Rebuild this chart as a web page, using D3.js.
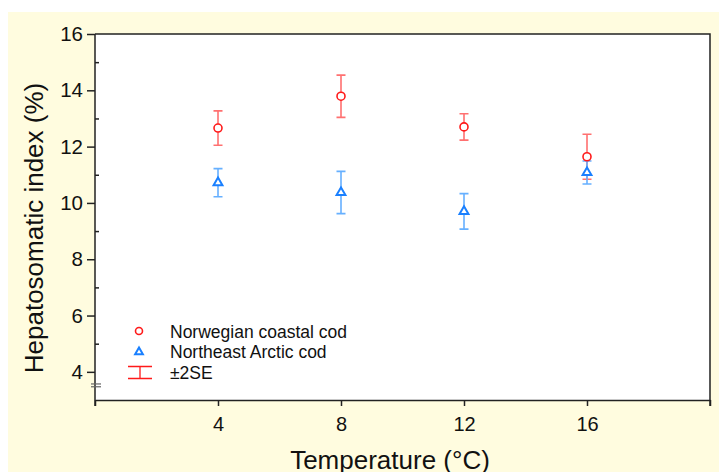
<!DOCTYPE html>
<html lang="en">
<head>
<meta charset="UTF-8">
<title>Hepatosomatic index</title>
<script src="https://cdn.jsdelivr.net/npm/d3@7/dist/d3.min.js"></script>
<style>
  body { margin: 0; background: #fff; }
  text { font-family: "Liberation Sans", Arial, sans-serif; fill: #111; }
</style>
</head>
<body>
<svg width="719" height="472"></svg>
<script>
// data
var temps = [4, 8, 12, 16];
var coastal = [12.66, 13.79, 12.70, 11.64];      // Norwegian coastal cod
var coastalErr = [0.61, 0.75, 0.47, 0.80];       // 2SE
var arctic = [10.72, 10.37, 9.70, 11.08];        // Northeast Arctic cod
var arcticErr = [0.50, 0.75, 0.63, 0.41];
var xTicks = [0, 4, 8, 12, 16, 20];
var yTicks = [4, 6, 8, 10, 12, 14, 16];
var yMinor = [5, 7, 9, 11, 13, 15];
var legendLabels = ['Norwegian coastal cod', 'Northeast Arctic cod', '±2SE'];

var svg = d3.select('svg');

// yellow background
svg.append('rect').attr('x', 8).attr('y', 12).attr('width', 711).attr('height', 460)
    .attr('fill', '#fffcdf');

var x = d3.scaleLinear().domain([0, 20]).range([95, 710]);
var y = d3.scaleLinear().domain([3, 16]).range([400, 34]);

// plot area
svg.append('rect').attr('x', x(0)).attr('y', y(16))
    .attr('width', x(20) - x(0)).attr('height', y(3) - y(16)).attr('fill', '#fff');

var axisColor = '#222';

// bottom axis
var gx = svg.append('g').attr('transform', 'translate(0,' + y(3) + ')')
    .call(d3.axisBottom(x).tickValues(xTicks).tickSize(6).tickSizeOuter(0).tickPadding(11)
        .tickFormat(function (d) { return (d === 0 || d === 20) ? '' : d; }));
gx.selectAll('text').attr('font-size', 20);

// left axis
var gy = svg.append('g').attr('transform', 'translate(' + x(0) + ',0)')
    .call(d3.axisLeft(y).tickValues(yTicks).tickSize(8).tickSizeOuter(0).tickPadding(4));
gy.selectAll('text').attr('font-size', 20.5);
gy.select('.domain').attr('d', 'M0,' + y(16) + 'V' + (y(3) + 6));

// minor ticks
svg.append('g').attr('transform', 'translate(' + x(0) + ',0)')
    .call(d3.axisRight(y).tickValues(yMinor).tickSize(4).tickFormat(''))
    .select('.domain').remove();

svg.selectAll('.domain, .tick line').attr('stroke', axisColor).attr('stroke-width', 1.5);

// top and right frame
svg.append('path')
    .attr('d', 'M' + x(0) + ',' + y(16) + 'H' + x(20) + 'V' + (y(3) + 6))
    .attr('fill', 'none').attr('stroke', axisColor).attr('stroke-width', 1.5);

// axis break
[3.57, 3.47].forEach(function (v) {
    svg.append('line').attr('x1', x(0) - 4).attr('x2', x(0) + 6)
        .attr('y1', y(v)).attr('y2', y(v))
        .attr('stroke', '#666').attr('stroke-width', 1.2);
});

// axis titles
svg.append('text').attr('x', 390).attr('y', 469).attr('text-anchor', 'middle')
    .attr('font-size', 26).text('Temperature (°C)');
svg.append('text').attr('transform', 'translate(43,228) rotate(-90)')
    .attr('text-anchor', 'middle').attr('font-size', 26).text('Hepatosomatic index (%)');

var red = '#ff1a1a', redBar = '#ff7070';
var blue = '#1a80ff', blueBar = '#66b0ff';
var capW = 4.5;

function errorBars(vals, errs, color) {
    var g = svg.append('g').attr('stroke', color).attr('stroke-width', 1.6).attr('fill', 'none');
    temps.forEach(function (t, i) {
        var cx = x(t), lo = y(vals[i] - errs[i]), hi = y(vals[i] + errs[i]);
        g.append('path').attr('d',
            'M' + cx + ',' + lo + 'V' + hi +
            'M' + (cx - capW) + ',' + hi + 'H' + (cx + capW) +
            'M' + (cx - capW) + ',' + lo + 'H' + (cx + capW));
    });
}

errorBars(coastal, coastalErr, redBar);
errorBars(arctic, arcticErr, blueBar);

var tri = d3.symbol().type(d3.symbolTriangle).size(34);

svg.append('g').selectAll('circle').data(coastal).enter().append('circle')
    .attr('cx', function (d, i) { return x(temps[i]); })
    .attr('cy', function (d) { return y(d); })
    .attr('r', 4).attr('fill', '#fff').attr('stroke', red).attr('stroke-width', 1.6);

svg.append('g').selectAll('path').data(arctic).enter().append('path')
    .attr('d', tri)
    .attr('transform', function (d, i) { return 'translate(' + x(temps[i]) + ',' + y(d) + ')'; })
    .attr('fill', '#fff').attr('stroke', blue).attr('stroke-width', 2);

// legend
var lg = svg.append('g');
lg.append('circle').attr('cx', 139).attr('cy', 331).attr('r', 3.5)
    .attr('fill', '#fff').attr('stroke', red).attr('stroke-width', 1.6);
lg.append('path').attr('d', d3.symbol().type(d3.symbolTriangle).size(26))
    .attr('transform', 'translate(139,352)')
    .attr('fill', '#fff').attr('stroke', blue).attr('stroke-width', 2);
lg.append('path').attr('d', 'M128,366.5H152M140,366.5V378.5M128,378.5H152')
    .attr('fill', 'none').attr('stroke', red).attr('stroke-width', 1.3);
legendLabels.forEach(function (s, i) {
    lg.append('text').attr('x', 170).attr('y', 337.5 + i * 20.5)
        .attr('font-size', 17.5).text(s);
});
</script>
</body>
</html>
